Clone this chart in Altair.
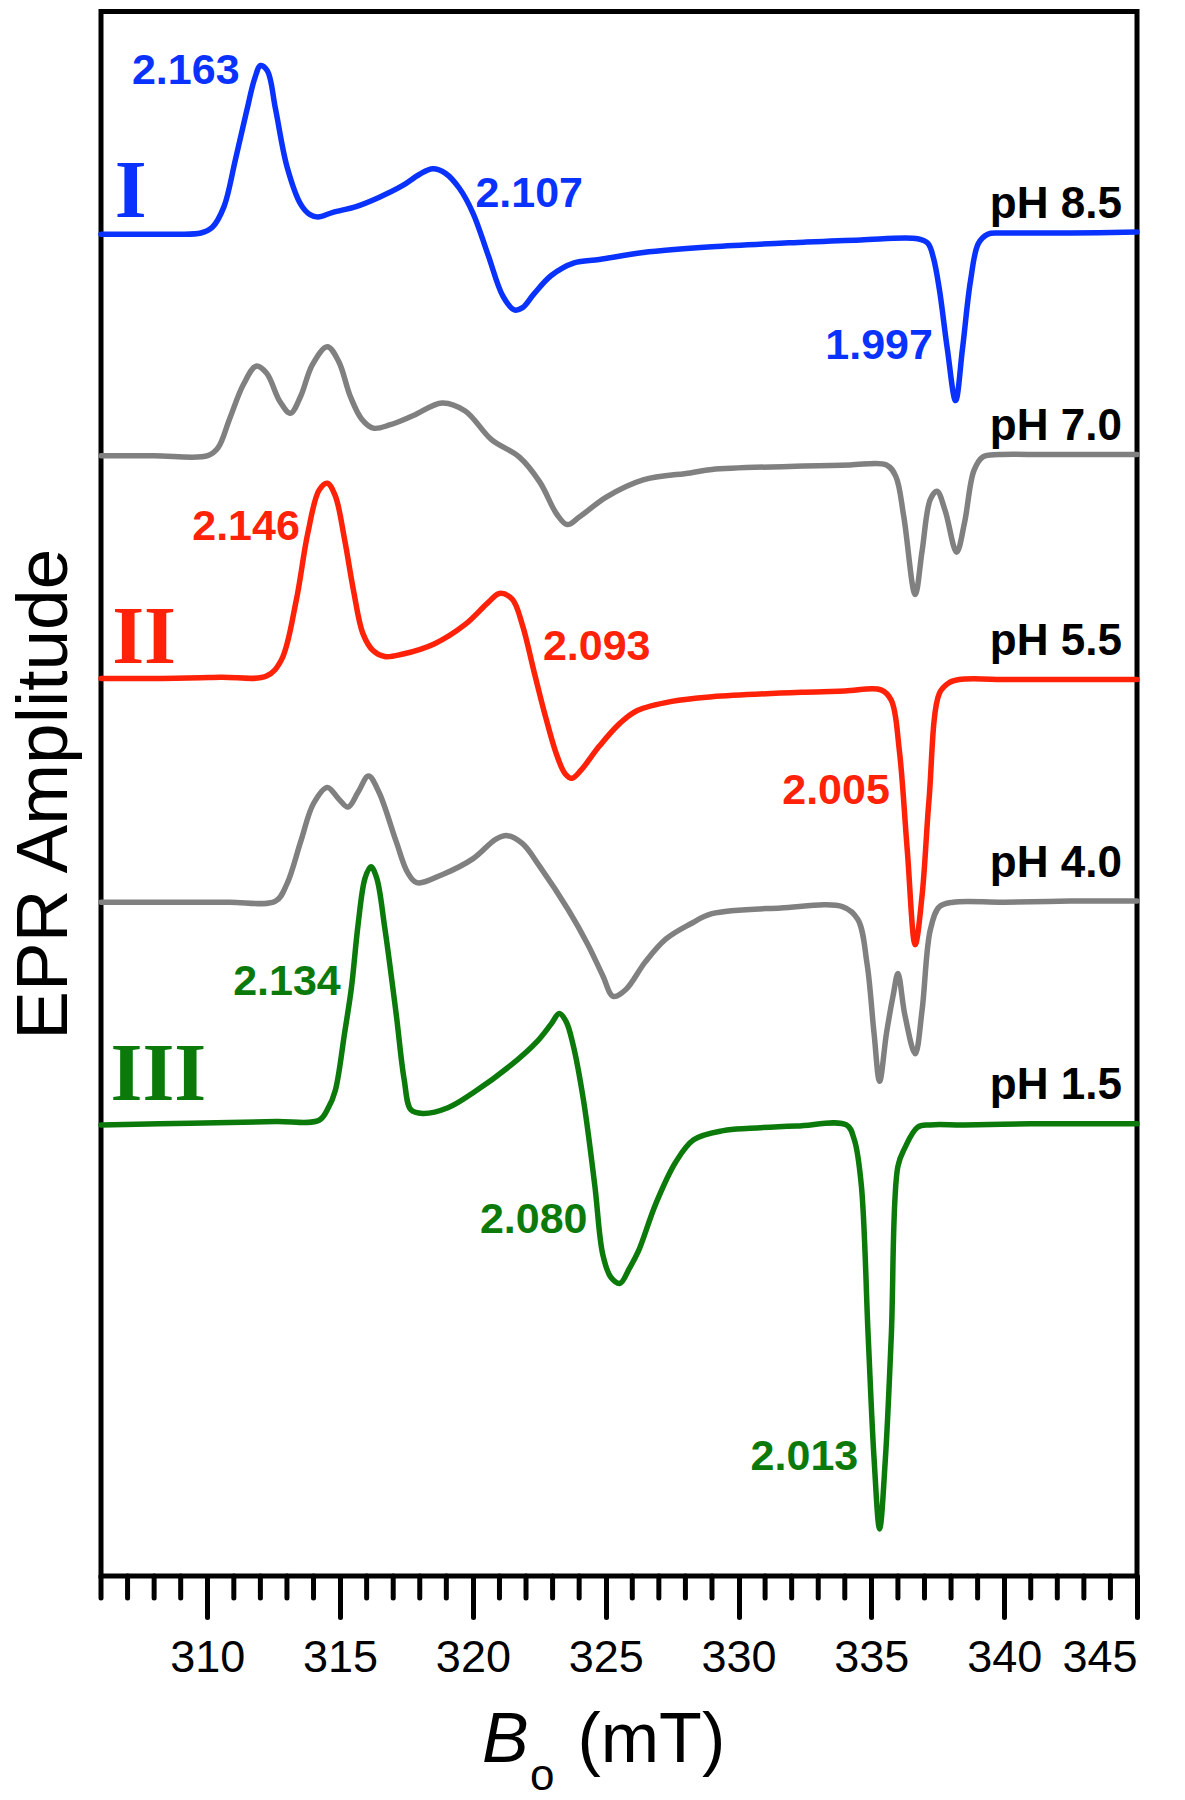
import altair as alt
import pandas as pd

# ---------------- data ----------------
series = ["pH 8.5", "pH 7.0", "pH 5.5", "pH 4.0", "pH 1.5"]
colors = ["#0a32ff", "#808080", "#ff2208", "#808080", "#0b7a0b"]
offsets = [1169, 976, 782, 587, 393]

b_field = [306.0, 307.4, 308.7, 309.76, 310.19, 310.63, 311.06, 311.49, 311.79, 312.01, 312.27, 312.57, 313.0,
           313.52, 313.87, 314.17, 314.73, 315.6, 316.46, 317.33, 317.98, 318.49, 318.97, 319.49, 320.01, 320.57,
           321.13, 321.56, 321.87, 322.3, 322.95, 323.81, 324.76, 326.41, 329.0, 332.46, 334.6, 336.74, 337.13,
           337.34, 337.56, 337.86, 338.17, 338.43, 338.73, 339.03, 339.38, 339.8, 340.5, 342.5, 345.0]
b_amp = [0, 0, 0, 1, 6, 24, 65, 108, 136, 147, 142, 109, 59, 26, 17, 15, 19, 24, 32, 42, 52, 57, 53, 40, 18,
         -18, -54, -66, -64, -52, -36, -25, -22, -16, -11, -7, -5, -4, -8, -21, -48, -100, -145, -100, -41, -8,
         0, 1, 1, 1, 2]

g7_field = [306.0, 308.0, 310.02, 310.41, 310.84, 311.36, 311.84, 312.23, 312.74, 313.13, 313.52, 313.95, 314.52,
            314.95, 315.38, 315.81, 316.25, 316.89, 317.76, 318.84, 319.71, 320.7, 321.74, 322.52, 323.16, 323.55,
            324.03, 325.02, 326.41, 328.18, 329.0, 332.46, 334.2, 335.57, 335.92, 336.22, 336.65, 336.91, 337.22,
            337.47, 337.78, 338.21, 338.51, 338.86, 339.2, 339.81, 341.5, 343.5, 345.0]
g7_amp = [0, 0, 0, 7, 32, 62, 78, 72, 47, 37, 52, 79, 95, 82, 52, 32, 24, 27, 35, 46, 39, 14, -1, -23, -51, -60,
          -53, -36, -21, -15, -12, -9, -8, -8, -18, -53, -121, -83, -38, -31, -48, -84, -58, -13, -1, 1, 1, 1, 1]

r_field = [306.0, 308.3, 310.5, 312.23, 312.79, 313.35, 313.78, 314.21, 314.52, 314.82, 315.17, 315.51, 315.86,
           316.25, 316.68, 317.33, 318.54, 319.71, 320.57, 321.0, 321.48, 321.87, 322.3, 322.73, 323.16, 323.47,
           323.73, 324.07, 324.76, 325.54, 326.19, 327.49, 329.0, 332.46, 334.0, 335.36, 335.75, 336.05, 336.35,
           336.65, 336.91, 337.17, 337.56, 337.91, 338.3, 340.2, 342.5, 345.0]
r_amp = [0, 0, 1, 2, 16, 68, 126, 164, 170, 159, 121, 76, 39, 24, 19, 21, 30, 47, 66, 74, 69, 46, 6, -33, -67,
         -83, -87, -80, -59, -39, -28, -20, -16, -12, -11, -10, -19, -62, -149, -232, -189, -106, -13, -4, -1, -1,
         -1, -1]

g4_field = [306.0, 308.4, 310.8, 312.57, 313.0, 313.52, 314.0, 314.52, 314.95, 315.3, 315.68, 316.07, 316.46,
            317.11, 317.54, 317.89, 318.84, 320.01, 320.87, 321.3, 321.87, 322.52, 323.6, 324.33, 324.89, 325.28,
            325.76, 326.49, 327.27, 328.18, 329.0, 331.59, 333.93, 334.49, 334.84, 335.1, 335.31, 335.57, 335.83,
            336.0, 336.26, 336.65, 336.91, 337.22, 337.56, 338.08, 340.0, 342.5, 345.0]
g4_amp = [0, 0, 0, 1, 16, 53, 86, 100, 90, 83, 96, 110, 96, 53, 26, 17, 24, 38, 55, 58, 51, 31, -7, -37, -64,
          -82, -76, -52, -32, -19, -10, -5, -4, -15, -54, -114, -156, -114, -80, -62, -98, -132, -94, -24, -4, 0,
          0, 1, 1]

gr_field = [306.0, 308.2, 310.84, 312.6, 314.21, 314.56, 314.82, 315.17, 315.43, 315.68, 315.94, 316.16, 316.38,
            316.68, 317.11, 317.41, 317.67, 318.11, 319.06, 320.01, 321.43, 322.43, 322.95, 323.25, 323.51, 323.77,
            324.16, 324.59, 324.89, 325.2, 325.54, 325.89, 326.23, 326.88, 327.62, 328.31, 329.43, 330.43, 332.2,
            334.06, 334.36, 334.62, 334.88, 335.1, 335.31, 335.53, 335.75, 336.0, 336.26, 336.74, 337.2, 338.5,
            341.0, 343.0, 345.0]
gr_amp = [0, 1, 2, 3, 4, 15, 30, 80, 120, 175, 215, 225, 215, 172, 97, 40, 13, 10, 15, 28, 52, 73, 88, 97, 90, 70,
          22, -53, -113, -133, -138, -125, -110, -69, -33, -13, -5, -3, -1, 0, -13, -52, -184, -290, -352, -290,
          -184, -36, -20, -2, 0, 0, 1, 1, 1]

fields = [b_field, g7_field, r_field, g4_field, gr_field]
amps = [b_amp, g7_amp, r_amp, g4_amp, gr_amp]

# g-value annotations
g_text = ["2.163", "2.107", "1.997", "2.146", "2.093", "2.005", "2.134", "2.080", "2.013"]
g_field = [309.19, 322.12, 335.29, 311.46, 324.66, 333.67, 313.0, 322.29, 332.48]
g_y = [1300, 1193, 1060, 903, 798, 673, 506, 299, 92]
g_series = ["pH 8.5"] * 3 + ["pH 5.5"] * 3 + ["pH 1.5"] * 3

roman_text = ["I", "II", "III"]
roman_field = [307.12, 307.62, 308.16]
roman_y = [1184, 795, 415]
roman_series = ["pH 8.5", "pH 5.5", "pH 1.5"]

ph_field = 344.43
ph_y = [1183, 990, 802, 609, 416]

major_ticks = [310, 315, 320, 325, 330, 335, 340, 345]
minor_ticks = [v for v in range(306, 346) if v % 5 != 0]

# ---------------- tables ----------------
rows = []
for name, off, f, a in zip(series, offsets, fields, amps):
    for i, (x, v) in enumerate(zip(f, a)):
        rows.append({"series": name, "field": x, "y": off + v, "i": i})
df = pd.DataFrame(rows)
gdf = pd.DataFrame({"text": g_text, "field": g_field, "y": g_y, "series": g_series})
rdf = pd.DataFrame({"text": roman_text, "field": roman_field, "y": roman_y, "series": roman_series})
pdf = pd.DataFrame({"text": series, "field": [ph_field] * 5, "y": ph_y})
mdf = pd.DataFrame({"field": minor_ticks})

W, H = 1036, 1564.5
xscale = alt.Scale(domain=[306, 345], nice=False, zero=False)
yscale = alt.Scale(domain=[0, 1363], nice=False, zero=False)
cscale = alt.Scale(domain=series, range=colors)

lines = alt.Chart(df).mark_line(strokeWidth=5.5, interpolate="catmull-rom", strokeJoin="round",
                                strokeCap="round").encode(
    x=alt.X("field:Q", scale=xscale,
            axis=alt.Axis(values=major_ticks, title="", tickSize=41, tickWidth=5, tickCap="round",
                          tickColor="black", labelFontSize=45, labelFont="Liberation Sans", labelColor="black",
                          labelPadding=18, domain=False, grid=False)),
    y=alt.Y("y:Q", scale=yscale,
            axis=alt.Axis(labels=False, ticks=False, domain=False, grid=False, title="EPR Amplitude",
                          titleFontSize=73, titleFont="Liberation Sans", titleFontWeight="normal",
                          titlePadding=35, titleBaseline="alphabetic", titleColor="black")),
    color=alt.Color("series:N", scale=cscale, legend=None),
    order="i:Q",
)

minor = alt.Chart(mdf).mark_rule(strokeWidth=5, strokeCap="round", color="black").encode(
    x=alt.X("field:Q", scale=xscale), y=alt.value(H), y2=alt.value(H + 22))

gnum = alt.Chart(gdf).mark_text(font="Liberation Sans", fontWeight="bold", fontSize=43, align="center",
                                baseline="alphabetic").encode(
    x=alt.X("field:Q", scale=xscale), y=alt.Y("y:Q", scale=yscale), text="text:N",
    color=alt.Color("series:N", scale=cscale, legend=None))

roman = alt.Chart(rdf).mark_text(font="Liberation Serif", fontWeight="bold", fontSize=82, align="center",
                                 baseline="alphabetic").encode(
    x=alt.X("field:Q", scale=xscale), y=alt.Y("y:Q", scale=yscale), text="text:N",
    color=alt.Color("series:N", scale=cscale, legend=None))

phlab = alt.Chart(pdf).mark_text(font="Liberation Sans", fontWeight="bold", fontSize=44, align="right",
                                 baseline="alphabetic", color="black").encode(
    x=alt.X("field:Q", scale=xscale), y=alt.Y("y:Q", scale=yscale), text="text:N")

tB = alt.Chart(pd.DataFrame({"t": ["B"]})).mark_text(font="Liberation Sans", fontStyle="italic", fontSize=70,
                                                      align="left", baseline="alphabetic", color="black").encode(
    text="t:N", x=alt.value(381), y=alt.value(1750.5))
to = alt.Chart(pd.DataFrame({"t": ["o"]})).mark_text(font="Liberation Sans", fontSize=44,
                                                      align="left", baseline="alphabetic", color="black").encode(
    text="t:N", x=alt.value(429), y=alt.value(1778.5))
tmT = alt.Chart(pd.DataFrame({"t": ["(mT)"]})).mark_text(font="Liberation Sans", fontSize=70,
                                                          align="left", baseline="alphabetic", color="black").encode(
    text="t:N", x=alt.value(476.5), y=alt.value(1750.5))

chart = alt.layer(lines, minor, gnum, roman, phlab, tB, to, tmT).properties(
    width=W, height=H, autosize="none",
    padding={"left": 93, "top": 3.5, "right": 40, "bottom": 222},
).configure_view(stroke="black", strokeWidth=5)

chart.save("out.html", embed_options={"renderer": "svg", "actions": False})
